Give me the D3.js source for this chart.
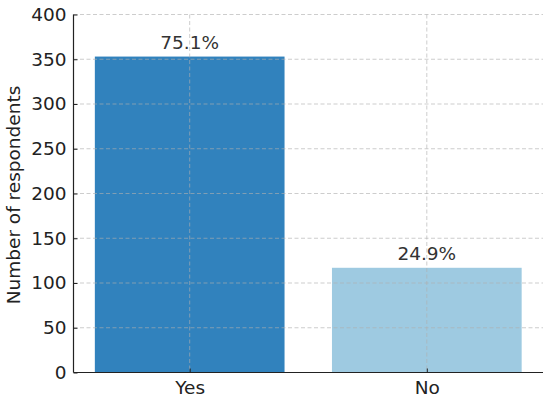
<!DOCTYPE html>
<html>
<head>
<meta charset="utf-8">
<script src="https://cdn.jsdelivr.net/npm/d3@7"></script>
<style>
  body { margin: 0; background: #fff; }
  svg text { font-family: "DejaVu Sans", sans-serif; }
</style>
</head>
<body>
<svg id="chart"></svg>
<script>
const answers = ['Yes', 'No'];
const counts = [353, 117];
const shares = ['75.1%', '24.9%'];
const barColors = ['#3182bd', '#9ecae1'];
const yTicks = [0, 50, 100, 150, 200, 250, 300, 350, 400];

const width = 550;
const height = 398;
const plotLeft = 73.5, plotRight = 543, plotTop = 14.5, plotBottom = 372.5;
const fontSize = '18.5px';

const svg = d3.select('#chart').attr('width', width).attr('height', height);

// categorical x like matplotlib: positions 0..n-1, bar width 0.8
const xScale = d3.scaleLinear().domain([-0.49, answers.length - 1 + 0.49]).range([plotLeft, plotRight]);
const yScale = d3.scaleLinear().domain([0, 400]).range([plotBottom, plotTop]);

svg.selectAll('rect.bar')
  .data(counts)
  .enter()
  .append('rect')
  .attr('class', 'bar')
  .attr('x', (d, i) => xScale(i - 0.4))
  .attr('width', (d, i) => xScale(i + 0.4) - xScale(i - 0.4))
  .attr('y', (d) => yScale(d))
  .attr('height', (d) => yScale(0) - yScale(d))
  .attr('fill', (d, i) => barColors[i]);

// grid on top of bars
const grid = svg.append('g').attr('stroke', '#b0b0b0').attr('stroke-opacity', 0.7)
  .attr('stroke-dasharray', '4,2.5').attr('stroke-width', 0.9);
grid.selectAll('line.h')
  .data(yTicks)
  .enter()
  .append('line')
  .attr('x1', plotLeft).attr('x2', plotRight)
  .attr('y1', (d) => yScale(d)).attr('y2', (d) => yScale(d));
grid.selectAll('line.v')
  .data(answers)
  .enter()
  .append('line')
  .attr('x1', (d, i) => xScale(i)).attr('x2', (d, i) => xScale(i))
  .attr('y1', plotTop).attr('y2', plotBottom);

const yAxis = d3.axisLeft(yScale).tickValues(yTicks).tickSizeInner(-4).tickSizeOuter(0).tickPadding(7);
const gy = svg.append('g')
  .attr('transform', 'translate(' + plotLeft + ',0)')
  .call(yAxis);
gy.select('.domain').remove();
gy.selectAll('text').style('font-size', fontSize).attr('fill', '#222');
gy.selectAll('line').attr('stroke', '#222');

const xAxis = d3.axisBottom(xScale).tickValues([0, 1]).tickFormat((d) => answers[d])
  .tickSizeInner(-4).tickSizeOuter(0).tickPadding(8);
const gx = svg.append('g')
  .attr('transform', 'translate(0,' + plotBottom + ')')
  .call(xAxis);
gx.select('.domain').remove();
gx.selectAll('text').style('font-size', fontSize).attr('fill', '#222');
gx.selectAll('line').attr('stroke', '#222');

// spines
svg.append('line').attr('x1', plotLeft).attr('x2', plotLeft).attr('y1', plotTop).attr('y2', plotBottom)
  .attr('stroke', '#222').attr('stroke-width', 1.2);
svg.append('line').attr('x1', plotLeft).attr('x2', plotRight).attr('y1', plotBottom).attr('y2', plotBottom)
  .attr('stroke', '#222').attr('stroke-width', 1.2);

svg.selectAll('text.share')
  .data(shares)
  .enter()
  .append('text')
  .attr('class', 'share')
  .attr('x', (d, i) => xScale(i))
  .attr('y', (d, i) => yScale(counts[i]) - 7.5)
  .attr('text-anchor', 'middle')
  .style('font-size', fontSize)
  .attr('fill', '#333')
  .text((d) => d);

svg.append('text')
  .attr('transform', 'rotate(-90)')
  .attr('x', -195)
  .attr('y', 20)
  .attr('text-anchor', 'middle')
  .style('font-size', fontSize)
  .attr('fill', '#222')
  .text('Number of respondents');
</script>
</body>
</html>
